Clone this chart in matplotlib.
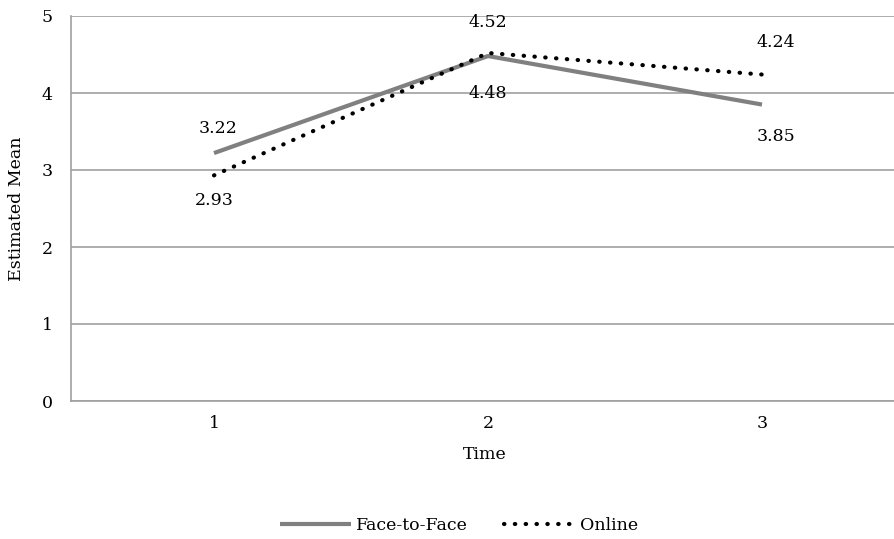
import matplotlib
matplotlib.use("Agg")
import matplotlib.pyplot as plt

times = [1, 2, 3]
face_to_face = [3.22, 4.48, 3.85]
online = [2.93, 4.52, 4.24]
yticks = [0, 1, 2, 3, 4, 5]

plt.rcParams['font.family'] = ['DejaVu Serif']
fig = plt.figure(figsize=(8.94, 5.39), dpi=100)
ax = fig.add_axes([71/894, 1-401/539, (899-71)/894, 385/539])
ax.set_xlim(1 - (214-71)/274, 3.5)
ax.set_ylim(0, 5)

ax.plot(times, face_to_face, color='#808080', lw=3, solid_capstyle='butt', label='Face-to-Face', zorder=3)
ax.plot(times, online, color='black', lw=3.0, linestyle=(0, (0.1, 2.5)), dash_capstyle='round', label='Online', zorder=4)

ax.set_yticks(yticks)
ax.set_xticks(times)
ax.grid(axis='y', color='#a0a0a0', lw=1.2)
ax.set_axisbelow(True)
for s in ['top', 'right']:
    ax.spines[s].set_visible(False)
ax.spines['left'].set_color('#a0a0a0')
ax.spines['bottom'].set_color('#a0a0a0')
ax.spines['left'].set_linewidth(1.2)
ax.spines['bottom'].set_linewidth(1.2)
ax.tick_params(axis='both', length=0, labelsize=12.5)
ax.tick_params(axis='y', pad=13)
ax.tick_params(axis='x', pad=10)
ax.set_ylabel('Estimated Mean', fontsize=12.5, labelpad=12)
ax.set_xlabel('Time', fontsize=12.5, labelpad=10)

offsets_ftf = [(3, 18), (0, -27), (10, -23)]
offsets_on = [(0, -18), (0, 22), (10, 23)]
for x, v, (dx, dy) in zip(times, face_to_face, offsets_ftf):
    ax.annotate(f'{v:.2f}', (x, v), xytext=(dx, dy), textcoords='offset points',
                ha='center', va='center', fontsize=12.5)
for x, v, (dx, dy) in zip(times, online, offsets_on):
    ax.annotate(f'{v:.2f}', (x, v), xytext=(dx, dy), textcoords='offset points',
                ha='center', va='center', fontsize=12.5)

fig.legend(loc='center', bbox_to_anchor=(0.5135, 1-526/539), ncol=2, frameon=False,
           fontsize=12.5, handlelength=4.1, columnspacing=2.05, handletextpad=0.3)

fig.savefig('out.png', dpi=100)
